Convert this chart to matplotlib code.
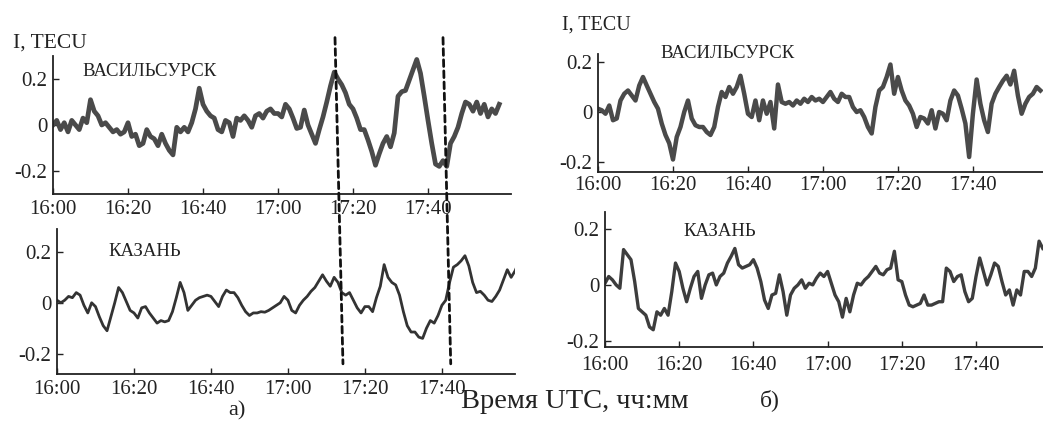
import matplotlib
matplotlib.use("Agg")
import matplotlib.pyplot as plt
from matplotlib.patches import ConnectionPatch

plt.rcParams['font.family'] = ['Liberation Serif', 'DejaVu Serif']

# минуты от 16:00, подписи оси времени
tick_min = [0, 20, 40, 60, 80, 100]
tick_lab = ['16:00', '16:20', '16:40', '17:00', '17:20', '17:40']
y_ticks = [-0.2, 0, 0.2]
y_lab = ['-0.2', '0', '0.2']

# а) Васильсурск, TECU, шаг 1 мин
vas_a = [0.00, 0.02, -0.02, 0.01, -0.03, 0.02, 0.00, -0.02, 0.03, 0.01,
         0.11, 0.06, 0.04, 0.00, 0.01, -0.01, -0.03, -0.02, -0.04, -0.03,
         0.01, -0.05, -0.04, -0.09, -0.08, -0.02, -0.05, -0.06, -0.09, -0.04,
         -0.08, -0.11, -0.13, -0.01, -0.03, -0.01, -0.03, 0.01, 0.07, 0.16,
         0.09, 0.06, 0.04, 0.03, -0.02, -0.03, 0.02, 0.01, -0.05, 0.03,
         0.02, 0.04, 0.02, -0.01, 0.04, 0.05, 0.03, 0.06, 0.07, 0.05,
         0.05, 0.035, 0.09, 0.07, 0.03, -0.015, -0.01, 0.065, 0.00, -0.04,
         -0.08, -0.02, 0.035, 0.10, 0.17, 0.23, 0.20, 0.175, 0.14, 0.09,
         0.07, 0.03, -0.02, -0.02, -0.065, -0.115, -0.175, -0.125, -0.08, -0.05,
         -0.095, -0.035, 0.125, 0.145, 0.15, 0.195, 0.24, 0.285, 0.225, 0.125,
         0.02, -0.08, -0.17, -0.18, -0.155, -0.18, -0.08, -0.05, -0.01, 0.05,
         0.10, 0.09, 0.06, 0.10, 0.05, 0.09, 0.035, 0.07, 0.05, 0.09]

# а) Казань
kaz_a = [0.01, 0.0, 0.01, 0.025, 0.02, 0.04, 0.03, -0.01, -0.04, 0.0,
         -0.015, -0.055, -0.09, -0.11, -0.055, 0.0, 0.06, 0.04, 0.005, -0.03,
         -0.04, -0.06, -0.02, -0.015, -0.04, -0.06, -0.08, -0.07, -0.075, -0.07,
         -0.035, 0.02, 0.08, 0.04, -0.03, -0.01, 0.01, 0.02, 0.025, 0.03,
         0.025, 0.005, -0.015, 0.025, 0.05, 0.04, 0.04, 0.02, -0.01, -0.035,
         -0.05, -0.04, -0.04, -0.035, -0.037, -0.03, -0.02, -0.01, 0.0, 0.025,
         0.01, -0.03, -0.04, -0.01, 0.01, 0.025, 0.045, 0.06, 0.085, 0.11,
         0.085, 0.065, 0.10, 0.08, 0.04, 0.03, 0.04, 0.01, -0.02, -0.04,
         -0.015, -0.015, -0.035, 0.02, 0.065, 0.15, 0.10, 0.08, 0.07, 0.03,
         -0.035, -0.09, -0.115, -0.115, -0.135, -0.14, -0.10, -0.07, -0.08, -0.05,
         -0.01, 0.01, 0.08, 0.14, 0.15, 0.165, 0.185, 0.145, 0.08, 0.04,
         0.045, 0.03, 0.01, 0.005, 0.025, 0.05, 0.09, 0.13, 0.10, 0.125, 0.16]

# б) Васильсурск
vas_b = [0.013, 0.007, -0.007, 0.026, -0.033, -0.026, 0.046, 0.073, 0.086, 0.066,
         0.046, 0.106, 0.14, 0.106, 0.073, 0.04, 0.013, -0.046, -0.092, -0.125,
         -0.19, -0.10, -0.06, 0.0, 0.046, -0.026, -0.053, -0.06, -0.06, -0.08,
         -0.092, -0.06, 0.02, 0.08, 0.06, 0.10, 0.073, 0.10, 0.145, 0.073,
         -0.007, -0.02, 0.046, -0.033, 0.046, -0.007, 0.04, -0.066, 0.11, 0.04,
         0.033, 0.04, 0.026, 0.046, 0.033, 0.053, 0.04, 0.06, 0.046, 0.053,
         0.04, 0.06, 0.08, 0.053, 0.04, 0.073, 0.06, 0.06, 0.02, 0.0,
         0.007, -0.02, -0.06, -0.086, 0.02, 0.086, 0.10, 0.14, 0.19, 0.073,
         0.14, 0.086, 0.046, 0.026, -0.007, -0.06, -0.02, -0.026, -0.046, 0.007,
         -0.066, 0.0, -0.007, -0.033, 0.046, 0.086, 0.066, 0.013, -0.046, -0.18,
         -0.007, 0.13, 0.033, -0.033, -0.08, 0.033, 0.073, 0.10, 0.125, 0.145,
         0.11, 0.165, 0.066, -0.007, 0.033, 0.06, 0.073, 0.10, 0.086]

# б) Казань
kaz_b = [0.006, 0.03, 0.018, 0.0, -0.012, 0.126, 0.108, 0.09, 0.012, -0.084,
         -0.096, -0.108, -0.15, -0.16, -0.096, -0.108, -0.084, -0.108, -0.024, 0.078,
         0.048, -0.012, -0.06, -0.012, 0.03, 0.048, -0.048, 0.0, 0.036, 0.042,
         0.0, 0.03, 0.042, 0.078, 0.102, 0.13, 0.072, 0.06, 0.066, 0.072,
         0.09, 0.06, 0.012, -0.054, -0.084, -0.036, -0.03, 0.036, -0.024, -0.108,
         -0.036, -0.012, 0.0, 0.018, -0.012, 0.006, 0.0, 0.024, 0.042, 0.03,
         0.048, 0.006, -0.036, -0.06, -0.115, -0.048, -0.096, -0.036, 0.006, 0.0,
         0.018, 0.03, 0.048, 0.066, 0.042, 0.036, 0.054, 0.06, 0.12, 0.018,
         0.012, -0.036, -0.072, -0.078, -0.072, -0.066, -0.036, -0.072, -0.072, -0.066,
         -0.06, -0.06, 0.06, 0.048, 0.012, 0.03, 0.036, -0.024, -0.06, -0.048,
         0.03, 0.096, 0.048, 0.0, 0.036, 0.078, 0.066, 0.012, -0.036, -0.018,
         -0.072, -0.018, -0.036, 0.048, 0.048, 0.03, 0.06, 0.156, 0.13]

# моменты, отмеченные пунктиром на рис. а), мин от 16:00
event_top = [75.2, 104.0]
event_bot = [74.3, 102.3]

W, H = 1043, 425
fig = plt.figure(figsize=(W / 100, H / 100), dpi=100)


def panel(rect, vals, xmax, ylim, lw, col, xpad):
    ax = fig.add_axes(rect)
    ax.plot(range(len(vals)), vals, color=col, lw=lw, solid_joinstyle='round')
    ax.set_xlim(0, xmax)
    ax.set_ylim(*ylim)
    for s in ['top', 'right']:
        ax.spines[s].set_visible(False)
    for s in ['left', 'bottom']:
        ax.spines[s].set_linewidth(1.3)
        ax.spines[s].set_color('#222222')
    ax.set_xticks(tick_min)
    ax.set_xticklabels(tick_lab)
    ax.set_yticks(y_ticks)
    ax.set_yticklabels(y_lab)
    ax.tick_params(direction='in', length=4, width=1, labelsize=15, pad=4,
                   colors='#222222')
    ax.tick_params(axis='x', pad=xpad)
    ax.patch.set_alpha(0)
    return ax


ax1 = panel([53 / W, 1 - 194 / H, 457.5 / W, 138 / H], vas_a, 122, (-0.3, 0.3), 3.4, '#4a4a4a', 4)
ax2 = panel([57 / W, 1 - 374 / H, 458 / W, 145 / H], kaz_a, 119, (-0.28, 0.29), 2.0, '#333333', 4)
ax3 = panel([598 / W, 1 - 172 / H, 445 / W, 117.5 / H], vas_b, 118.7, (-0.24, 0.23), 3.2, '#4a4a4a', 3)
ax4 = panel([605 / W, 1 - 346.6 / H, 438 / W, 134.6 / H], kaz_b, 118.06, (-0.22, 0.26), 2.4, '#3d3d3d', 7)

# пунктирные линии через обе панели а)
for ta, tb in zip(event_top, event_bot):
    con = ConnectionPatch(xyA=(ta, 0.38), coordsA=ax1.transData,
                          xyB=(tb, -0.24), coordsB=ax2.transData,
                          color='#111111', lw=2.0, linestyle=(0, (2.4, 1.6)))
    fig.add_artist(con)


def ftext(x, y, s, size):
    fig.text(x / W, 1 - y / H, s, ha='center', va='center', fontsize=size,
             color='#222222')


ftext(50, 43, 'I, TECU', 15.5)
ftext(596, 25, 'I, TECU', 14.5)
ftext(150, 72, 'ВАСИЛЬСУРСК', 13.5)
ftext(145, 252, 'КАЗАНЬ', 13.5)
ftext(728, 53, 'ВАСИЛЬСУРСК', 13.5)
ftext(720, 232, 'КАЗАНЬ', 13.5)
ftext(575, 402, 'Время UTC, чч:мм', 20.5)
ftext(237, 411, 'а)', 16)
ftext(770, 400, 'б)', 17)

fig.savefig('out.png', dpi=100, facecolor='white')
